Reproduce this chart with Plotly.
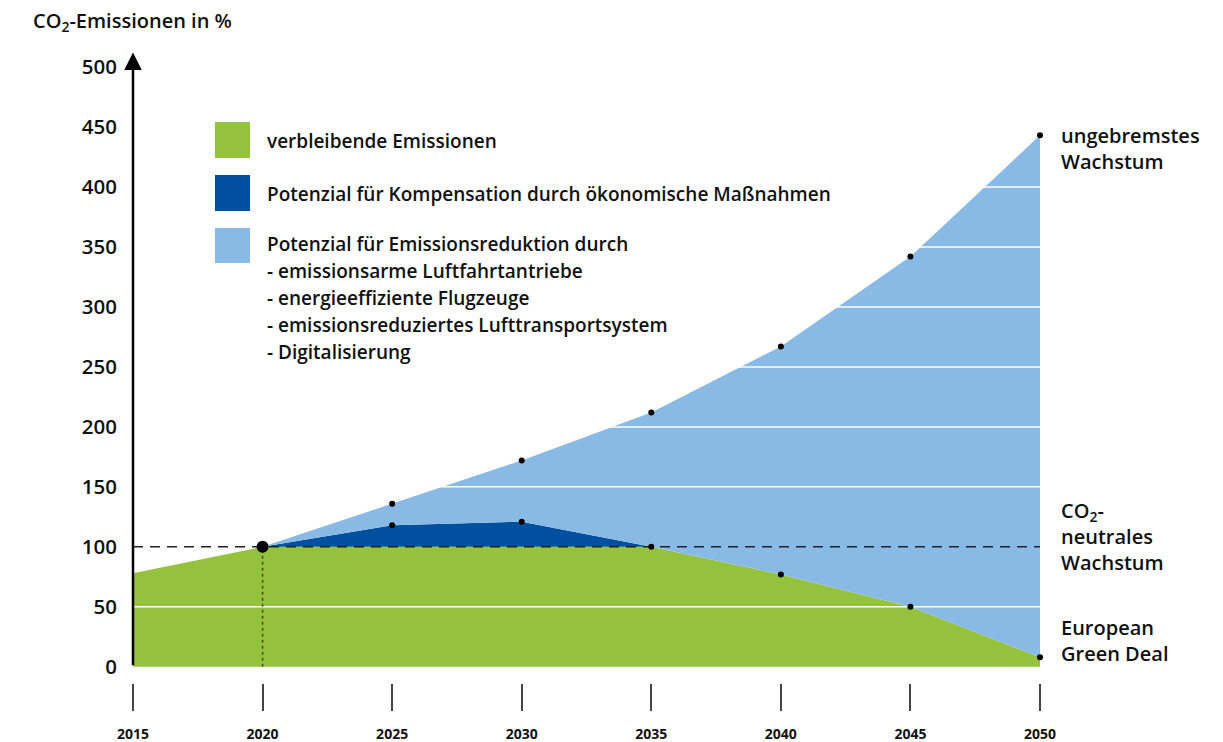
import plotly.graph_objects as go

# ---- data ----
years = [2015, 2020, 2025, 2030, 2035, 2040, 2045, 2050]
verbleibend = [78, 100, 100, 100, 100, 77, 50, 8]            # green
kompensation = [100, 118, 121, 100, 77, 50, 8]              # dark blue top, 2020..2050
ungebremst = [100, 136, 172, 212, 267, 342, 443]            # light blue top, 2020..2050
y_ticks = [0, 50, 100, 150, 200, 250, 300, 350, 400, 450, 500]
grid_vals = [50, 150, 200, 250, 300, 350, 400, 450]
baseline = 100

GREEN = "#95C23D"
DARK = "#0050A0"
LIGHT = "#88BAE5"
FONT = "Open Sans"
TXT = "#111111"

OFF = 8                      # page body margin
W, H = 1223 - OFF, 742 - OFF
# plot area in screen pixels
L, R, T, B = 133, 1040, 55, 683


def px(x):
    return (x - L) / (R - L)


def py(y):
    return (B - y) / (B - T)


fig = go.Figure()
yrs2 = years[1:]
fig.add_trace(go.Scatter(x=years, y=verbleibend, mode="lines", line=dict(width=0, color=GREEN),
                         fill="tozeroy", fillcolor=GREEN, hoverinfo="skip", showlegend=False))
fig.add_trace(go.Scatter(x=yrs2, y=kompensation, mode="lines", line=dict(width=0, color=DARK),
                         fill="tonexty", fillcolor=DARK, hoverinfo="skip", showlegend=False))
fig.add_trace(go.Scatter(x=yrs2, y=ungebremst, mode="lines", line=dict(width=0, color=LIGHT),
                         fill="tonexty", fillcolor=LIGHT, hoverinfo="skip", showlegend=False))

# white grid lines drawn over the fills (below the dots)
gx, gy = [], []
for g in grid_vals:
    gx += [years[0], years[-1], None]
    gy += [g, g, None]
fig.add_trace(go.Scatter(x=gx, y=gy, mode="lines", line=dict(color="white", width=1.5),
                         hoverinfo="skip", showlegend=False))
# dashed 100 % line and dotted 2020 marker line
fig.add_trace(go.Scatter(x=[years[0], years[-1]], y=[baseline, baseline], mode="lines",
                         line=dict(color="#222222", width=1.5, dash="10px,7px"),
                         hoverinfo="skip", showlegend=False))
fig.add_trace(go.Scatter(x=[years[1], years[1]], y=[0, baseline], mode="lines",
                         line=dict(color="#3f4d22", width=1.5, dash="dot"),
                         hoverinfo="skip", showlegend=False))

# dots
fig.add_trace(go.Scatter(x=yrs2[1:], y=ungebremst[1:], mode="markers",
                         marker=dict(size=6, color="black"), cliponaxis=False, showlegend=False))
fig.add_trace(go.Scatter(x=yrs2[1:4], y=kompensation[1:4], mode="markers",
                         marker=dict(size=6, color="black"), cliponaxis=False, showlegend=False))
fig.add_trace(go.Scatter(x=years[5:], y=verbleibend[5:], mode="markers",
                         marker=dict(size=6, color="black"), cliponaxis=False, showlegend=False))
fig.add_trace(go.Scatter(x=[years[1]], y=[verbleibend[1]], mode="markers",
                         marker=dict(size=12, color="black"), cliponaxis=False, showlegend=False))

shapes = []
# legend squares
for col, (y0, y1) in zip([GREEN, DARK, LIGHT], [(122, 158), (175, 211), (228, 263)]):
    shapes.append(dict(type="rect", xref="paper", yref="paper", x0=px(215), x1=px(250),
                       y0=py(y1), y1=py(y0), fillcolor=col, line=dict(width=0)))

annotations = []
# y axis arrow
annotations.append(dict(x=years[0], y=512, ax=years[0], ay=0, xref="x", yref="y", axref="x", ayref="y",
                        text="", showarrow=True, arrowhead=2, arrowsize=1.4, arrowwidth=2.5,
                        arrowcolor="black"))


def txt(t, x, y, size=19, anchor="left", weight=600):
    annotations.append(dict(text=t, x=px(x), y=py(y), xref="paper", yref="paper",
                            xanchor=anchor, yanchor="middle", align="left", showarrow=False,
                            font=dict(family=FONT, size=size, color=TXT, weight=weight)))


txt("CO<sub>2</sub>-Emissionen in %", 31, 22, 20)

legend_lines = [
    ("verbleibende Emissionen", 141),
    ("Potenzial für Kompensation durch ökonomische Maßnahmen", 194),
    ("Potenzial für Emissionsreduktion durch", 244),
    ("- emissionsarme Luftfahrtantriebe", 271),
    ("- energieeffiziente Flugzeuge", 298),
    ("- emissionsreduziertes Lufttransportsystem", 325),
    ("- Digitalisierung", 352),
]
for t, y in legend_lines:
    txt(t, 265, y)

right_blocks = [
    ("ungebremstes<br>Wachstum", 148),
    ("CO<sub>2</sub>-<br>neutrales<br>Wachstum", 536),
    ("European<br>Green Deal", 640),
]
for t, y in right_blocks:
    txt(t, 1059, y, 20)

fig.update_layout(
    width=W, height=H,
    margin=dict(l=L - OFF, r=W - (R - OFF), t=T - OFF, b=H - (B - OFF), autoexpand=False),
    paper_bgcolor="white", plot_bgcolor="white",
    shapes=shapes, annotations=annotations,
    font=dict(family=FONT, color=TXT),
    xaxis=dict(range=[years[0], years[-1]], tickvals=years, ticktext=[str(y) for y in years],
               showgrid=False, zeroline=False, showline=False, automargin=False,
               ticks="outside", ticklen=27, tickwidth=1.5, tickcolor="#444444",
               ticklabelstandoff=11, tickfont=dict(family=FONT, size=14, color=TXT, weight="bold")),
    yaxis=dict(range=[-13.5, 510], tickvals=y_ticks, showgrid=False, zeroline=False, showline=False,
               ticks="", ticklabelstandoff=15, automargin=False,
               tickfont=dict(family=FONT, size=20.5, color=TXT, weight=600)),
)

fig.write_html("out.html")
